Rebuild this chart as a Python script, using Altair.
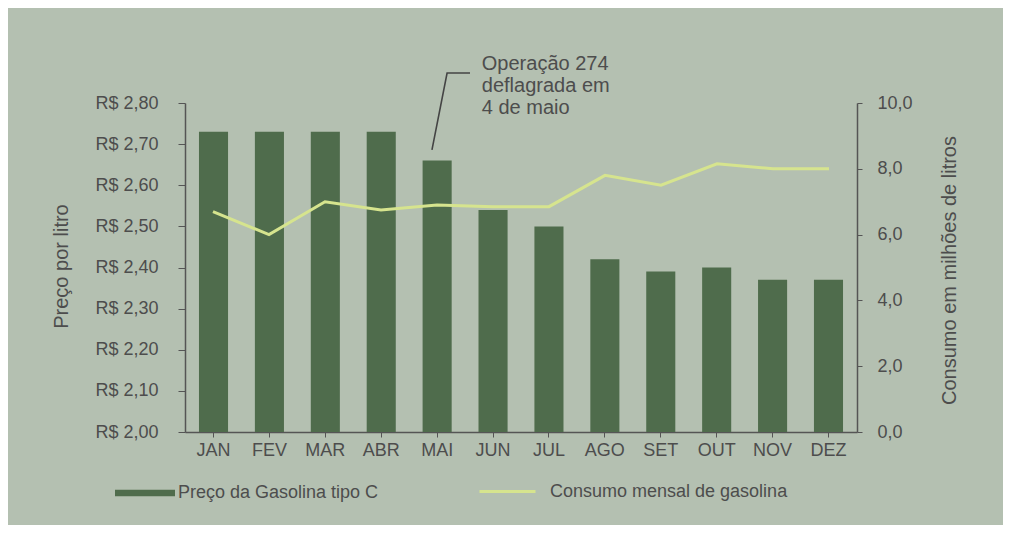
import json
import altair as alt
import pandas as pd

# ---- data ----
meses = ["JAN", "FEV", "MAR", "ABR", "MAI", "JUN", "JUL", "AGO", "SET", "OUT", "NOV", "DEZ"]
preco = [2.73, 2.73, 2.73, 2.73, 2.66, 2.54, 2.50, 2.42, 2.39, 2.40, 2.37, 2.37]
consumo = [6.7, 6.0, 7.0, 6.75, 6.9, 6.85, 6.85, 7.8, 7.5, 8.15, 8.0, 8.0]

preco_ticks = [2.0, 2.1, 2.2, 2.3, 2.4, 2.5, 2.6, 2.7, 2.8]
preco_tick_labels = ["R$ 2,00", "R$ 2,10", "R$ 2,20", "R$ 2,30", "R$ 2,40",
                     "R$ 2,50", "R$ 2,60", "R$ 2,70", "R$ 2,80"]
consumo_ticks = [0, 2, 4, 6, 8, 10]
consumo_tick_labels = ["0,0", "2,0", "4,0", "6,0", "8,0", "10,0"]

leg_preco = "Preço da Gasolina tipo C"
leg_consumo = "Consumo mensal de gasolina"
titulo_esq = "Preço por litro"
titulo_dir = "Consumo em milhões de litros"
anot_texto = "Operação 274\ndeflagrada em\n4 de maio"

# ---- tables ----
df = pd.DataFrame({"mes": meses, "preco": preco, "consumo": consumo})
df["base"] = 2.0
df["sp"] = leg_preco
df["sc"] = leg_consumo

# annotation leader (in annotation data space: x 0..12 months, y price)
leader = pd.DataFrame({"ax": [4.41, 4.68, 5.09], "ay": [2.686, 2.873, 2.873], "o": [0, 1, 2]})
texto = pd.DataFrame({"ax": [5.30], "ay": [2.919], "t": [anot_texto]})

FONT = "Liberation Sans"
TXT = "#4d4d4d"
AXC = "#555555"
BAR = "#4f6c4c"
LINE = "#d6e48e"
BG = "#b4c0b1"

W, H = 672, 329

x_scale = alt.Scale(domain=meses, paddingInner=0.48, paddingOuter=0.25)

def lbl_expr(labels):
    return json.dumps(labels) + "[round(datum.index*%d)]" % (len(labels) - 1)

bars = alt.Chart(df).mark_bar().encode(
    x=alt.X("mes:N", sort=meses, scale=x_scale,
            axis=alt.Axis(title=None, labelAngle=0, labelFontSize=18, labelFont=FONT,
                          labelColor=TXT, tickSize=5, tickColor=AXC, domainColor=AXC,
                          domainWidth=1.5, labelPadding=4)),
    y=alt.Y("preco:Q", scale=alt.Scale(domain=[2.0, 2.8], zero=False, nice=False),
            axis=alt.Axis(values=preco_ticks, labelExpr=lbl_expr(preco_tick_labels),
                          grid=False, labelFontSize=18, labelFont=FONT, labelColor=TXT,
                          tickSize=7, tickColor=AXC, domainColor=AXC, domainWidth=1.5,
                          labelPadding=20, title=titulo_esq, titleFont=FONT,
                          titleFontSize=20, titleFontWeight="normal", titleColor=TXT,
                          titleAngle=270, titleX=-124, titleY=163, titleAlign="center",
                          titleBaseline="middle")),
    y2="base:Q",
    fill=alt.Fill("sp:N", scale=alt.Scale(range=[BAR]),
                  legend=alt.Legend(title=None, orient="none", legendX=-70, legendY=360,
                                    symbolType="M-1,-0.11H1V0.11H-1Z", symbolSize=3600,
                                    symbolStrokeWidth=0, labelOffset=3, labelFontSize=18,
                                    labelFont=FONT, labelColor=TXT, labelLimit=400)),
)

line = alt.Chart(df).mark_line(strokeWidth=3).encode(
    x=alt.X("mes:N", sort=meses, scale=x_scale, axis=None),
    y=alt.Y("consumo:Q", scale=alt.Scale(domain=[0, 10], nice=False),
            axis=alt.Axis(orient="right", values=consumo_ticks,
                          labelExpr=lbl_expr(consumo_tick_labels), grid=False,
                          labelFontSize=18, labelFont=FONT, labelColor=TXT, tickSize=5,
                          tickColor=AXC, domainColor=AXC, domainWidth=1.5, labelPadding=15,
                          title=titulo_dir, titleFont=FONT, titleFontSize=20,
                          titleFontWeight="normal", titleColor=TXT, titleAngle=270,
                          titleX=92, titleY=167, titleAlign="center",
                          titleBaseline="middle")),
    stroke=alt.Stroke("sc:N", scale=alt.Scale(range=[LINE]),
                      legend=alt.Legend(title=None, orient="none", legendX=293, legendY=359,
                                        symbolType="stroke", symbolSize=3136,
                                        symbolStrokeWidth=3, labelOffset=13,
                                        labelFontSize=18, labelFont=FONT, labelColor=TXT,
                                        labelLimit=400)),
)

ax_x = alt.Scale(domain=[0, 12], nice=False, zero=False)
ax_y = alt.Scale(domain=[2.0, 2.8], nice=False, zero=False)

lead = alt.Chart(leader).mark_line(color="#444444", strokeWidth=1.6, clip=False).encode(
    x=alt.X("ax:Q", scale=ax_x, axis=None),
    y=alt.Y("ay:Q", scale=ax_y, axis=None),
    order="o:Q",
)

anot = alt.Chart(texto).mark_text(align="left", baseline="top", fontSize=20, font=FONT,
                                  color=TXT, lineBreak="\n", lineHeight=22).encode(
    x=alt.X("ax:Q", scale=ax_x, axis=None),
    y=alt.Y("ay:Q", scale=ax_y, axis=None),
    text="t:N",
)

chart = alt.layer(bars, line, lead, anot).resolve_scale(
    x="independent", y="independent", fill="independent", stroke="independent"
).properties(
    width=W, height=H,
    padding={"left": 177, "top": 95, "right": 146, "bottom": 93},
    autosize=alt.AutoSizeParams(type="none"),
    background=BG,
).configure_view(stroke=None)

chart.save("out.html", embed_options={"renderer": "svg", "actions": False})
